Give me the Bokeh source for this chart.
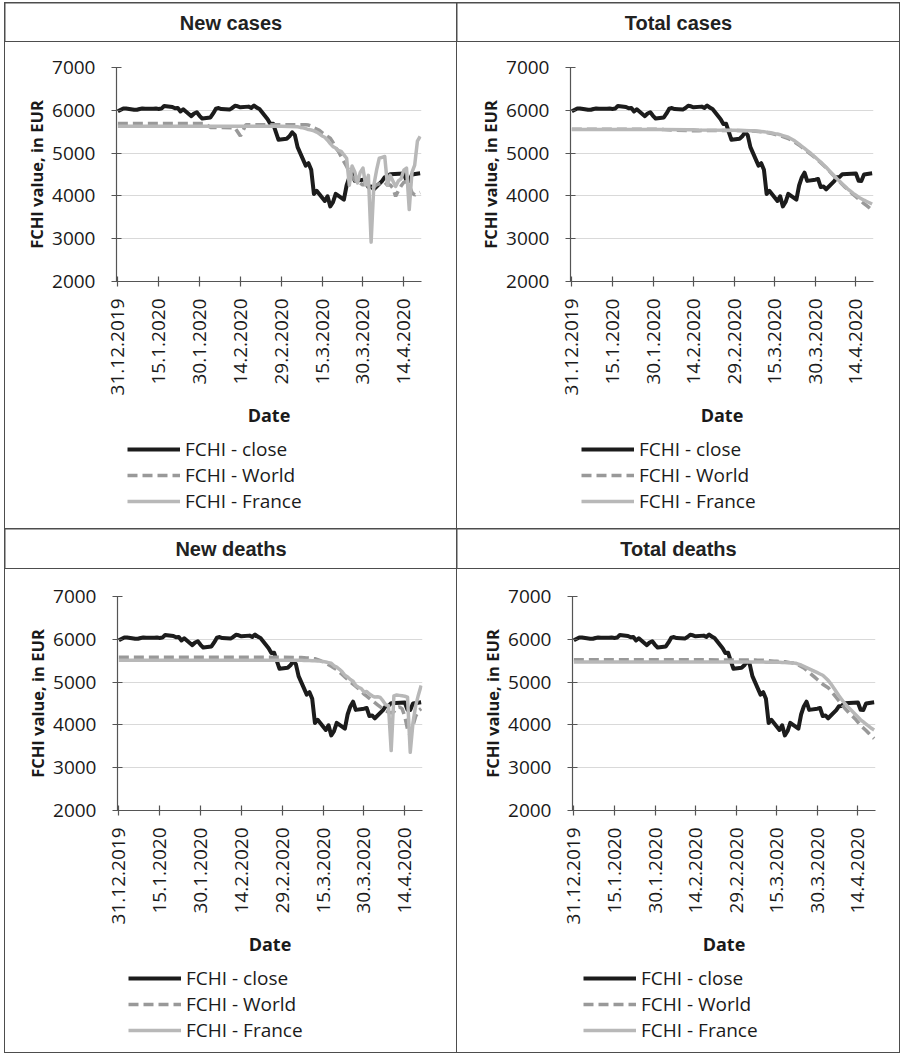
import math
import pandas as pd
from bokeh.plotting import figure
from bokeh.layouts import column, row
from bokeh.models import FixedTicker, Range1d, Legend, LegendItem
from bokeh.core.properties import value
from bokeh.embed import file_html
from bokeh.resources import INLINE

# ---------------- data ----------------
panel_titles = ["New cases", "Total cases", "New deaths", "Total deaths"]
series_labels = ["FCHI - close", "FCHI - World", "FCHI - France"]
x_axis_label = "Date"
y_axis_label = "FCHI value, in EUR"
tick_labels = ["31.12.2019", "15.1.2020", "30.1.2020", "14.2.2020",
               "29.2.2020", "15.3.2020", "30.3.2020", "14.4.2020"]
y_ticks = [2000, 3000, 4000, 5000, 6000, 7000]

close_dates = ["31.12", "02.01", "03.01", "06.01", "07.01", "08.01", "09.01", "10.01",
               "13.01", "14.01", "15.01", "16.01", "17.01", "20.01", "21.01", "22.01",
               "23.01", "24.01", "27.01", "28.01", "29.01", "30.01", "31.01", "03.02",
               "04.02", "05.02", "06.02", "07.02", "10.02", "11.02", "12.02", "13.02",
               "14.02", "17.02", "18.02", "19.02", "20.02", "21.02", "24.02", "25.02",
               "26.02", "27.02", "28.02", "02.03", "03.03", "04.03", "05.03", "06.03",
               "09.03", "10.03", "11.03", "12.03", "13.03", "16.03", "17.03", "18.03",
               "19.03", "20.03", "23.03", "24.03", "25.03", "26.03", "27.03", "30.03",
               "31.03", "01.04", "02.04", "03.04", "06.04", "07.04", "08.04", "09.04",
               "14.04", "15.04", "16.04", "17.04", "20.04"]
close_values = [5978, 6042, 6044, 6014, 6012, 6031, 6043, 6037,
                6036, 6040, 6033, 6040, 6101, 6079, 6046, 6055,
                5972, 6024, 5863, 5926, 5955, 5872, 5806, 5833,
                5928, 6038, 6052, 6030, 6016, 6055, 6105, 6093,
                6069, 6086, 6057, 6111, 6062, 6030, 5792, 5680,
                5688, 5496, 5310, 5334, 5393, 5487, 5419, 5139,
                4708, 4763, 4610, 4044, 4118, 3881, 3992, 3755,
                3856, 4049, 3914, 4243, 4432, 4544, 4351, 4379,
                4396, 4207, 4221, 4155, 4346, 4438, 4443, 4507,
                4524, 4354, 4350, 4499, 4528]

model_dates = (["31.12", "01.02", "03.02", "12.02", "14.02", "16.02", "29.02"]
               + [d.strftime("%d.%m") for d in pd.date_range("2020-03-06", "2020-04-20")])

new_cases_world = [5690, 5690, 5600, 5590, 5400, 5660, 5660,
                   5660, 5660, 5660, 5660, 5655, 5630, 5590, 5560, 5530, 5480,
                   5430, 5390, 5350, 5250, 5120, 5040, 4920, 4800, 4690, 4570,
                   4450, 4370, 4280, 4300, 4250, 4320, 4300, 4250, 4200, 4260,
                   4280, 4300, 4320, 4250, 4260, 4180, 3990, 4120, 4230, 4320,
                   4330, 4250, 4080, 4020, 4060, 4080]
new_cases_france = [5630, 5630, 5630, 5630, 5630, 5630, 5625,
                    5615, 5600, 5590, 5570, 5550, 5540, 5520, 5490, 5450, 5400,
                    5370, 5300, 5220, 5150, 5120, 5060, 5040, 4960, 4880, 4250,
                    4700, 4560, 4300, 4550, 4650, 4250, 4480, 2920, 4250, 4600,
                    4880, 4900, 4920, 4250, 4480, 4350, 4220, 4350, 4400, 4600,
                    4650, 3680, 4550, 4720, 5280, 5390]
total_cases_world = [5560, 5560, 5550, 5525, 5525, 5525, 5530,
                     5520, 5515, 5510, 5505, 5500, 5490, 5480, 5470, 5455, 5440,
                     5425, 5405, 5385, 5360, 5340, 5305, 5270, 5230, 5185, 5140,
                     5090, 5040, 4990, 4940, 4885, 4830, 4775, 4715, 4655, 4590,
                     4525, 4460, 4395, 4330, 4265, 4205, 4145, 4090, 4035, 3980,
                     3925, 3875, 3820, 3770, 3720, 3665]
total_cases_france = [5550, 5550, 5550, 5545, 5545, 5540, 5535,
                      5525, 5520, 5515, 5510, 5505, 5497, 5490, 5480, 5470, 5455,
                      5445, 5430, 5410, 5390, 5370, 5335, 5300, 5255, 5210, 5160,
                      5110, 5060, 5010, 4955, 4900, 4845, 4790, 4730, 4670, 4600,
                      4530, 4465, 4400, 4340, 4280, 4220, 4160, 4110, 4060, 4015,
                      3970, 3935, 3900, 3870, 3840, 3810]
new_deaths_world = [5580, 5580, 5580, 5580, 5580, 5580, 5578,
                    5575, 5572, 5568, 5564, 5560, 5553, 5545, 5525, 5500, 5470,
                    5440, 5405, 5370, 5330, 5290, 5235, 5180, 5120, 5060, 5005,
                    4950, 4900, 4850, 4785, 4720, 4670, 4620, 4570, 4520, 4470,
                    4420, 4375, 4330, 4300, 4280, 4310, 4400, 4420, 4380, 4200,
                    3900, 3750, 3980, 4200, 4330, 4380]
new_deaths_france = [5510, 5510, 5510, 5510, 5510, 5510, 5510,
                     5510, 5508, 5507, 5506, 5505, 5500, 5500, 5495, 5490, 5480,
                     5470, 5455, 5440, 5380, 5350, 5300, 5240, 5160, 5120, 5060,
                     5020, 4920, 4880, 4850, 4770, 4780, 4720, 4680, 4650, 4660,
                     4640, 4560, 4470, 4450, 3400, 4680, 4700, 4690, 4680, 4670,
                     4650, 3360, 4050, 4450, 4700, 4920]
total_deaths_world = [5520, 5520, 5520, 5520, 5520, 5520, 5518,
                      5515, 5514, 5512, 5511, 5510, 5505, 5500, 5495, 5490, 5485,
                      5480, 5477, 5475, 5465, 5455, 5445, 5430, 5400, 5365, 5330,
                      5280, 5225, 5170, 5115, 5060, 5005, 4950, 4910, 4870, 4795,
                      4720, 4640, 4560, 4480, 4400, 4330, 4260, 4200, 4140, 4065,
                      3990, 3930, 3870, 3805, 3740, 3680]
total_deaths_france = [5470, 5470, 5470, 5470, 5470, 5470, 5470,
                       5470, 5470, 5469, 5468, 5467, 5466, 5465, 5464, 5463, 5462,
                       5461, 5460, 5455, 5452, 5450, 5445, 5440, 5420, 5400, 5370,
                       5340, 5310, 5280, 5250, 5220, 5190, 5160, 5100, 5040, 4960,
                       4870, 4775, 4680, 4595, 4510, 4445, 4380, 4315, 4250, 4185,
                       4120, 4070, 4020, 3970, 3920, 3880]

# ---------------- helpers ----------------
START = pd.Timestamp(2019, 12, 31)


def day_offset(s):
    d, m = (int(v) for v in s.split("."))
    y = 2019 if m == 12 else 2020
    return (pd.Timestamp(y, m, d) - START).days


close_x = [day_offset(s) for s in close_dates]
model_x = [day_offset(s) for s in model_dates]
tick_pos = [(pd.to_datetime(t, format="%d.%m.%Y") - START).days for t in tick_labels]
x_lo, x_hi = close_x[0] - 0.5, close_x[-1] + 0.5

CLOSE_C = "#1c1c1c"
WORLD_C = "#999999"
FRANCE_C = "#b8b8b8"
AXIS_C = "#555555"
TEXT_C = "#1a1a1a"
GRID_C = "#d9d9d9"
FONT = "Open Sans"
STYLES = [dict(line_color=CLOSE_C, line_width=4, line_join="round"),
          dict(line_color=WORLD_C, line_width=3.5, line_dash="10 5"),
          dict(line_color=FRANCE_C, line_width=3.5, line_join="round")]


def blank(width, height, **kw):
    f = figure(width=width, height=height, output_backend="svg", toolbar_location=None,
               x_range=Range1d(0, 1), y_range=Range1d(0, 1),
               x_axis_location=None, y_axis_location=None, outline_line_color=None,
               background_fill_color="white", border_fill_color="white", **kw)
    f.grid.visible = False
    return f


def header(title, width, height):
    h = blank(width, height, min_border=0)
    h.text(x=[0.5], y=[0.5], text=[title], text_align="center", text_baseline="middle",
           text_font=value("Liberation Sans"), text_font_style="bold",
           text_font_size="20px", text_color="#222222")
    return h


def legend_fig(width, height, left, right, lift):
    f = blank(width, height, min_border_left=left, min_border_right=right,
              min_border_top=0, min_border_bottom=0)
    # legend samples: the close series, kept outside this strip's (0..1) ranges
    rs = [f.line(close_x, close_values, **st) for st in STYLES]
    legend = Legend(items=[LegendItem(label=lab, renderers=[r])
                           for lab, r in zip(series_labels, rs)],
                    location=(11, lift), orientation="vertical",
                    glyph_width=53, glyph_height=20, label_height=20,
                    label_standoff=5, spacing=0, padding=0, margin=0,
                    border_line_color=None, background_fill_alpha=0,
                    label_text_font=FONT, label_text_font_size="19px",
                    label_text_color=TEXT_C)
    f.add_layout(legend)
    return f


def panel(world, france, width, height, left, right, top):
    p = figure(width=width, height=height, output_backend="svg", toolbar_location=None,
               x_range=Range1d(x_lo, x_hi), y_range=Range1d(y_ticks[0], y_ticks[-1]),
               min_border_left=left, min_border_right=right, min_border_top=top,
               outline_line_color=None, background_fill_color="white",
               border_fill_color="white")
    p.line(close_x, close_values, **STYLES[0])
    p.line(model_x, world, **STYLES[1])
    p.line(model_x, france, **STYLES[2])

    xa = p.xaxis[0]
    ya = p.yaxis[0]
    xa.ticker = FixedTicker(ticks=tick_pos)
    xa.major_label_overrides = {int(k): v for k, v in zip(tick_pos, tick_labels)}
    ya.ticker = FixedTicker(ticks=y_ticks)
    for ax in (xa, ya):
        ax.axis_line_color = AXIS_C
        ax.axis_line_width = 1.2
        ax.major_tick_line_color = AXIS_C
        ax.major_tick_line_width = 1.2
        ax.major_tick_in = 5
        ax.major_tick_out = 5
        ax.minor_tick_line_color = None
        ax.major_label_text_font = FONT
        ax.major_label_text_font_size = "19px"
        ax.major_label_text_color = TEXT_C
        ax.axis_label_text_font = FONT
        ax.axis_label_text_font_style = "bold"
        ax.axis_label_text_color = TEXT_C
    xa.major_label_orientation = math.pi / 2
    xa.major_label_standoff = 12
    xa.axis_label = x_axis_label
    xa.axis_label_text_font_size = "18px"
    xa.axis_label_standoff = 5
    ya.axis_label = y_axis_label
    ya.axis_label_text_font_size = "16.5px"
    ya.axis_label_standoff = 1
    ya.major_label_standoff = 16

    p.xgrid.visible = False
    p.ygrid.ticker = FixedTicker(ticks=y_ticks)
    p.ygrid.grid_line_color = GRID_C
    p.ygrid.grid_line_width = 1.2
    return p


LW, RW = 451, 442
H1, C1, H2, C2 = 38, 486, 39, 483
PH1, PH2 = 388, 390
CELL = {"background-color": "white"}

h1 = header(panel_titles[0], LW, H1)
h2 = header(panel_titles[1], RW, H1)
h3 = header(panel_titles[2], LW, H2)
h4 = header(panel_titles[3], RW, H2)

c1 = column(panel(new_cases_world, new_cases_france, LW, PH1, 111, 35, 25),
            legend_fig(LW, C1 - PH1, 111, 35, 14), spacing=0, styles=CELL)
c2 = column(panel(total_cases_world, total_cases_france, RW, PH1, 113, 26, 25),
            legend_fig(RW, C1 - PH1, 113, 26, 14), spacing=0, styles=CELL)
c3 = column(panel(new_deaths_world, new_deaths_france, LW, PH2, 112, 34, 27),
            legend_fig(LW, C2 - PH2, 112, 34, 9), spacing=0, styles=CELL)
c4 = column(panel(total_deaths_world, total_deaths_france, RW, PH2, 115, 24, 27),
            legend_fig(RW, C2 - PH2, 115, 24, 9), spacing=0, styles=CELL)

layout = column(row(h1, h2, spacing=1), row(c1, c2, spacing=1),
                row(h3, h4, spacing=1), row(c3, c4, spacing=1),
                spacing=1, styles={"background-color": "#4d4d4d", "padding": "1px",
                                   "margin-left": "4px", "margin-top": "2px"})

open("out.html", "w").write(file_html(layout, INLINE, title="FCHI"))
